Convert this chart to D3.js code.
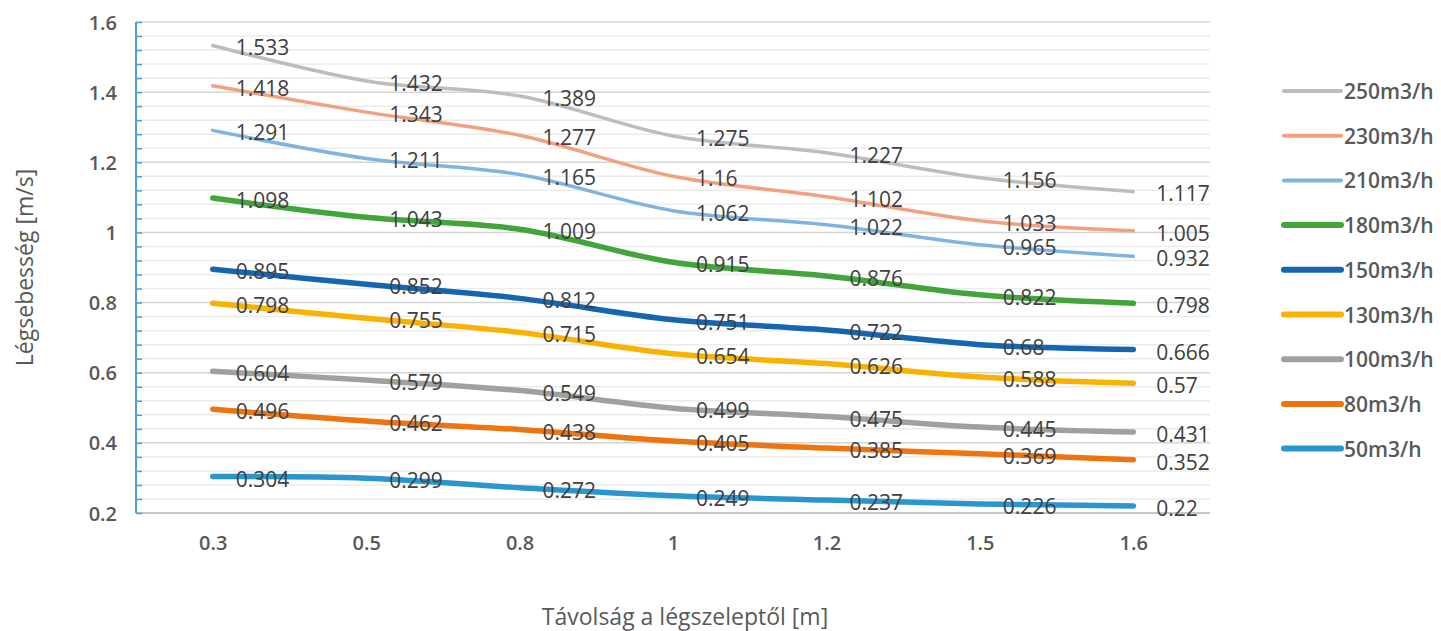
<!DOCTYPE html>
<html>
<head>
<meta charset="utf-8">
<script src="https://cdn.jsdelivr.net/npm/d3@7"></script>
<style>
html,body{margin:0;padding:0;background:#fff;}
svg{display:block;}
</style>
</head>
<body>
<svg id="chart" width="1441" height="631"></svg>
<script>
const categories = ["0.3","0.5","0.8","1","1.2","1.5","1.6"];
const seriesNames = ["250m3/h","230m3/h","210m3/h","180m3/h","150m3/h","130m3/h","100m3/h","80m3/h","50m3/h"];
const s250 = [1.533,1.432,1.389,1.275,1.227,1.156,1.117];
const s230 = [1.418,1.343,1.277,1.16,1.102,1.033,1.005];
const s210 = [1.291,1.211,1.165,1.062,1.022,0.965,0.932];
const s180 = [1.098,1.043,1.009,0.915,0.876,0.822,0.798];
const s150 = [0.895,0.852,0.812,0.751,0.722,0.68,0.666];
const s130 = [0.798,0.755,0.715,0.654,0.626,0.588,0.57];
const s100 = [0.604,0.579,0.549,0.499,0.475,0.445,0.431];
const s80  = [0.496,0.462,0.438,0.405,0.385,0.369,0.352];
const s50  = [0.304,0.299,0.272,0.249,0.237,0.226,0.22];
const seriesValues = [s250,s230,s210,s180,s150,s130,s100,s80,s50];
const colors = ["#bdbdbd","#f4a080","#80b4e0","#41a53a","#1565b0","#f9b200","#a0a0a0","#ee7410","#2a96d0"];
const widths = [3.5,3.5,3.5,5.5,5.5,5.5,5.5,5.5,5.5];
const yTicks = [0.2,0.4,0.6,0.8,1,1.2,1.4,1.6];

const svg = d3.select("#chart");
const L = 136, R = 1210, T = 22, B = 513;
const FONT = "'Open Sans', sans-serif";

const x = d3.scalePoint().domain(categories).range([L, R]).padding(0.5);
const y = d3.scaleLinear().domain([0.2, 1.6]).range([B, T]);

// minor gridlines
const minor = d3.range(0, 36).map(i => +(0.2 + i*0.04).toFixed(2)).filter(v => !yTicks.some(t => Math.abs(t - v) < 1e-6));
svg.append("g").selectAll("line").data(minor).join("line")
  .attr("x1", L).attr("x2", R)
  .attr("y1", d => y(d)).attr("y2", d => y(d))
  .attr("stroke", "#ebebeb").attr("stroke-width", 1.5);

// major gridlines
svg.append("g").selectAll("line").data(yTicks).join("line")
  .attr("x1", L).attr("x2", R)
  .attr("y1", d => y(d)).attr("y2", d => y(d))
  .attr("stroke", d => d === 0.2 ? "#c8c8c8" : "#d4d4d4")
  .attr("stroke-width", d => d === 0.2 ? 2 : 1.5);

// y axis (blue, ticks inside)
const yAxis = d3.axisRight(y).tickValues(d3.range(0, 36).map(i => 0.2 + i*0.04)).tickSize(6).tickFormat("");
const ya = svg.append("g").attr("transform", `translate(${L},0)`).call(yAxis);
ya.select(".domain").attr("stroke", "#4a9ee0").attr("stroke-width", 2).attr("d", `M0,${T}V${B}`);
ya.selectAll(".tick line").attr("stroke", "#4a9ee0").attr("stroke-width", 1.5);

// y tick labels
const yl = svg.append("g").attr("transform", `translate(117,0)`)
  .call(d3.axisLeft(y).tickValues(yTicks).tickSize(0).tickPadding(0).tickFormat(d3.format("~g")));
yl.select(".domain").remove();
yl.selectAll("text").attr("fill", "#595959").style("font-family", FONT)
  .style("font-size", "20px").style("font-weight", 600).attr("dy", "0.35em");

// x tick labels
const xl = svg.append("g").attr("transform", `translate(0,${B})`)
  .call(d3.axisBottom(x).tickSize(0).tickPadding(0));
xl.select(".domain").remove();
xl.selectAll("text").attr("fill", "#595959").attr("y", 37).attr("dy", 0)
  .style("font-family", FONT).style("font-size", "20px").style("font-weight", 600);

// lines
const line = d3.line().x((d, i) => x(categories[i])).y(d => y(d)).curve(d3.curveCatmullRom.alpha(0.5));
const order = d3.range(seriesValues.length).reverse();
const lg = svg.append("g");
order.forEach(si => {
  lg.append("path").datum(seriesValues[si])
    .attr("d", line).attr("fill", "none")
    .attr("stroke", colors[si]).attr("stroke-width", widths[si])
    .attr("stroke-linecap", "round").attr("stroke-linejoin", "round");
});

// data labels
const dl = svg.append("g").style("font-family", FONT).style("font-size", "21px").attr("fill", "#404040");
seriesValues.forEach((vals, si) => {
  dl.selectAll(null).data(vals).join("text")
    .attr("x", (d, i) => x(categories[i]) + 23)
    .attr("y", d => y(d) + 10)
    .text(d => d3.format("~g")(d));
});

// legend
const leg = svg.append("g");
seriesNames.forEach((n, i) => {
  const yy = 91 + i*44.7;
  leg.append("line").attr("x1", 1284).attr("x2", 1341).attr("y1", yy).attr("y2", yy)
    .attr("stroke", colors[i]).attr("stroke-width", i < 3 ? 4 : 6).attr("stroke-linecap", "round");
  leg.append("text").attr("x", 1344).attr("y", yy + 8).text(n)
    .attr("fill", "#595959").style("font-family", FONT)
    .style("font-size", "21px").style("font-weight", 600);
});

// axis titles
svg.append("text").attr("transform", `translate(33,${(T+B)/2}) rotate(-90)`)
  .attr("text-anchor", "middle").text("Légsebesség [m/s]")
  .attr("fill", "#595959").style("font-family", FONT).style("font-size", "23px");
svg.append("text").attr("x", 685).attr("y", 625).attr("text-anchor", "middle")
  .text("Távolság a légszeleptől [m]")
  .attr("fill", "#595959").style("font-family", FONT).style("font-size", "23px");
</script>
</body>
</html>
